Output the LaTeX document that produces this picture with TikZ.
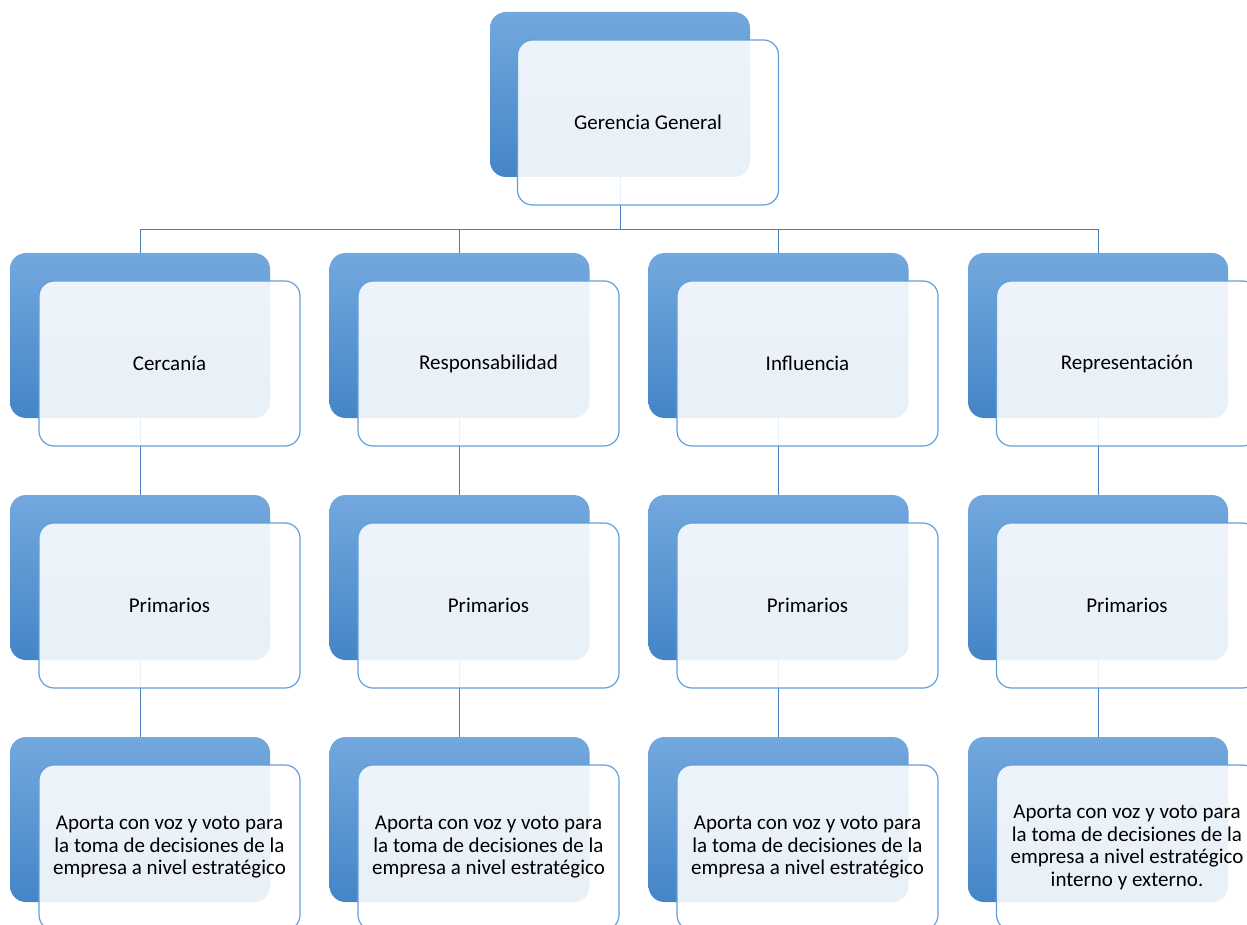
\documentclass[tikz,border=0pt]{standalone}
\usepackage{fontspec}
\setmainfont{Carlito}
\usetikzlibrary{backgrounds}

\definecolor{backtop}{HTML}{73A8DE}
\definecolor{backbot}{HTML}{4485C7}
\definecolor{frontline}{HTML}{629FDA}
\definecolor{linkblue}{HTML}{4A7EBB}

\tikzset{
  backbox/.style={rounded corners=16pt, minimum width=260pt, minimum height=165pt,
    top color=backtop, bottom color=backbot, draw=none, inner sep=0pt},
  frontbox/.style={rounded corners=15pt, minimum width=261pt, minimum height=165pt,
    fill=white, fill opacity=0.88, text opacity=1, draw=frontline, draw opacity=1,
    line width=1.2pt, align=center, text=black,
    font=\fontsize{21}{22.5}\selectfont, inner sep=0pt},
  link/.style={draw=linkblue, line width=1pt}
}

\begin{document}
\begin{tikzpicture}[x=1pt,y=-1pt]
  \useasboundingbox (0,0) rectangle (1247,925);
  \clip (0,0) rectangle (1247,925);

  % top box
  \node[backbox] (gb) at (620,94.5) {};
  \node[frontbox] (gf) at (648,122.5) {Gerencia General};

  % columns: back box x, front box x
  \foreach \c/\bx/\fx/\lab in {1/140/169.5/Cercanía, 2/459.5/488.5/Responsabilidad,
                             3/778.5/807.5/Influencia, 4/1098/1127/Representación} {
    \node[backbox] (b2-\c) at (\bx,335.5) {};
    \node[frontbox] (f2-\c) at (\fx,363.5) {\lab};
    \node[backbox] (b3-\c) at (\bx,577.5) {};
    \node[frontbox] (f3-\c) at (\fx,605.5) {Primarios};
    \node[backbox] (b4-\c) at (\bx,819.5) {};
  }
  \foreach \c/\fx in {1/169.5, 2/488.5, 3/807.5} {
    \node[frontbox] (f4-\c) at (\fx,847.5)
      {Aporta con voz y voto para\\la toma de decisiones de la\\empresa a nivel estratégico};
  }
  \node[frontbox] (f4-4) at (1127,847.5)
    {Aporta con voz y voto para\\la toma de decisiones de la\\empresa a nivel estratégico\\interno y externo.};

  % connectors behind the boxes
  \begin{scope}[on background layer]
    \coordinate (bar) at (620,230);
    \foreach \c in {1,...,4} {
      \draw[link] (gb.south) -- (bar) -| (b2-\c.north);
      \draw[link] (b2-\c.south) -- (b3-\c.north);
      \draw[link] (b3-\c.south) -- (b4-\c.north);
    }
  \end{scope}
\end{tikzpicture}
\end{document}
